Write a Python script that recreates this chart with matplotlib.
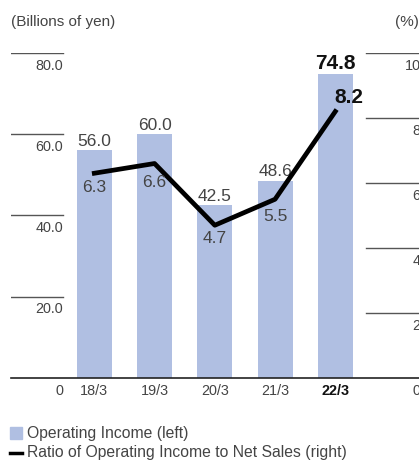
import matplotlib.pyplot as plt
from matplotlib.patches import Rectangle
from matplotlib.lines import Line2D

plt.rcParams['font.family'] = ['Liberation Sans', 'DejaVu Sans']

years = ['18/3', '19/3', '20/3', '21/3', '22/3']
income = [56.0, 60.0, 42.5, 48.6, 74.8]
ratio = [6.3, 6.6, 4.7, 5.5, 8.2]
left_ticks = [20.0, 40.0, 60.0, 80.0]
right_ticks = [2, 4, 6, 8, 10]

W, H = 419, 461
bar_color = '#b0bfe2'
gray = '#444444'
tick_fs = 10.4
val_fs = 12.5
big_fs = 15

fig = plt.figure(figsize=(W / 100, H / 100), dpi=100)
ax = fig.add_axes([11 / W, (H - 378) / H, 408 / W, 325 / H])
ax.set_ylim(0, 80)
step = 60.25
x0 = 94.3
ax.set_xlim((11 - x0) / step, (419 - x0) / step)
ax.axis('off')

xs = list(range(len(years)))
ax.bar(xs, income, width=0.58, color=bar_color, zorder=1)

ax2 = ax.twinx()
ax2.set_ylim(0, 10)
ax2.axis('off')
ax2.plot(xs, ratio, color='black', lw=3.4, zorder=3)

# baseline and short grid lines
ax.axhline(0, color='#222222', lw=1.2, clip_on=False)
lf = 52 / 408
rf = 355 / 408
for v in left_ticks:
    ax.axhline(v, xmin=0, xmax=lf, color='#555555', lw=1.0)
    ax.annotate(f'{v:.1f}', xy=(lf, v), xycoords=('axes fraction', 'data'),
                xytext=(0, -4), textcoords='offset points', ha='right', va='top',
                fontsize=tick_fs, color=gray)
ax.annotate('0', xy=(lf, 0), xycoords=('axes fraction', 'data'),
            xytext=(0, -4), textcoords='offset points', ha='right', va='top',
            fontsize=tick_fs, color=gray)
for v in right_ticks:
    ax2.axhline(v, xmin=rf, xmax=1, color='#555555', lw=1.0)
    ax2.annotate(f'{v}', xy=(1, v), xycoords=('axes fraction', 'data'),
                 xytext=(1, -4), textcoords='offset points', ha='right', va='top',
                 fontsize=tick_fs, color=gray, annotation_clip=False)
ax2.annotate('0', xy=(1, 0), xycoords=('axes fraction', 'data'),
             xytext=(1, -4), textcoords='offset points', ha='right', va='top',
             fontsize=tick_fs, color=gray, annotation_clip=False)

# category labels
for i, y in enumerate(years):
    last = i == len(years) - 1
    ax.annotate(y, xy=(i, 0), xytext=(0, -4), textcoords='offset points',
                ha='center', va='top', fontsize=tick_fs,
                color='#111111' if last else gray,
                fontweight='bold' if last else 'normal')

# bar value labels
for i, v in enumerate(income):
    last = i == len(income) - 1
    ax.annotate(f'{v:.1f}', xy=(i, v), xytext=(0, 1), textcoords='offset points',
                ha='center', va='bottom',
                fontsize=big_fs if last else val_fs,
                color='#111111' if last else gray,
                fontweight='bold' if last else 'normal')

# ratio labels
offs = [(0, -5), (0, -8), (0, -4), (0, -7)]
for i, v in enumerate(ratio[:-1]):
    ax2.annotate(f'{v:.1f}', xy=(i, v), xytext=offs[i], textcoords='offset points',
                 ha='center', va='top', fontsize=val_fs, color=gray, zorder=4)
ax2.annotate(f'{ratio[-1]:.1f}', xy=(4, ratio[-1]), xytext=(10, 10),
             textcoords='offset points', ha='center', va='center',
             fontsize=big_fs, fontweight='bold', color='#111111', zorder=4)

# axis titles
fig.text(11 / W, 1 - 22 / H, '(Billions of yen)', fontsize=11, color=gray,
         ha='left', va='center')
fig.text(1, 1 - 22 / H, '(%)', fontsize=11, color=gray, ha='right', va='center')

# legend
fig.patches.append(Rectangle((10 / W, 1 - 439 / H), 12 / W, 12 / H,
                             transform=fig.transFigure, color=bar_color))
fig.text(27 / W, 1 - 433 / H, 'Operating Income (left)', fontsize=11.3,
         color=gray, ha='left', va='center')
fig.lines.append(Line2D([10 / W, 22 / W], [1 - 452.5 / H, 1 - 452.5 / H],
                        transform=fig.transFigure, color='black', lw=2.5))
fig.text(27 / W, 1 - 452 / H, 'Ratio of Operating Income to Net Sales (right)',
         fontsize=11.3, color=gray, ha='left', va='center')

fig.savefig('out.png', dpi=100)
